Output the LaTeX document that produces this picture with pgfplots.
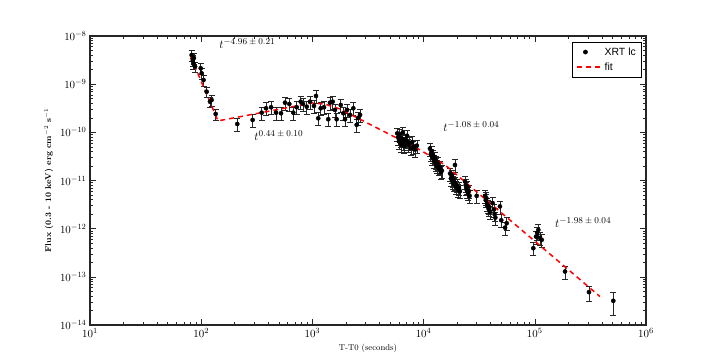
\documentclass[border=0pt]{standalone}
\usepackage{fontspec}
\usepackage{pgfplots}
\usepackage{pgfplotstable}
\pgfplotsset{compat=1.18}
\usetikzlibrary{calc}
\newfontfamily\legfont{Liberation Sans}
\definecolor{fitred}{RGB}{255,0,0}
% power-law index written as a large superscript
\newcommand{\idx}[1]{$t^{\mbox{\fontsize{9.5}{11}\selectfont$#1$}}$}
% longer legend sample for the fit line
\pgfplotsset{fit legend/.style={legend image code/.code={\draw[##1] (0cm,0cm) -- (0.88cm,0cm);}}}

% t (s), flux, relative error
\pgfplotstableread{
t F e
82 4.03e-9 0.25
84 3.18e-9 0.25
85 2.72e-9 0.25
86 3.5e-9 0.25
88 2.31e-9 0.25
99 2.14e-9 0.25
101 1.68e-9 0.25
105 1.22e-9 0.25
112 6.98e-10 0.25
120 4.33e-10 0.25
124 4.7e-10 0.25
135 2.41e-10 0.25
211 1.49e-10 0.3
290 1.81e-10 0.3
350 2.56e-10 0.3
383 3.16e-10 0.3
425 3.32e-10 0.3
471 2.56e-10 0.3
522 2.49e-10 0.3
567 4.13e-10 0.3
620 3.88e-10 0.3
673 2.56e-10 0.3
722 3.32e-10 0.3
785 4.33e-10 0.3
823 3.88e-10 0.3
889 3.41e-10 0.3
951 4.33e-10 0.3
1033 3.53e-10 0.3
1077 5.69e-10 0.3
1129 1.96e-10 0.3
1187 3.16e-10 0.3
1271 3.32e-10 0.3
1389 1.87e-10 0.3
1439 4.13e-10 0.3
1522 4.33e-10 0.3
1596 2.92e-10 0.3
1652 1.87e-10 0.3
1798 3.70e-10 0.3
1897 2.49e-10 0.3
1964 1.87e-10 0.3
2047 2.92e-10 0.3
2178 2.3e-10 0.3
2333 3.16e-10 0.3
2500 1.43e-10 0.3
2570 1.99e-10 0.3
2680 2.3e-10 0.3
5800 9.5e-11 0.3
5900 7.8e-11 0.3
6000 6.5e-11 0.3
6100 8.8e-11 0.3
6200 6.9e-11 0.3
6300 5.6e-11 0.3
6400 7.4e-11 0.3
6500 1.0e-10 0.3
6600 6.1e-11 0.3
6700 5.2e-11 0.3
6800 7.0e-11 0.3
7000 6.6e-11 0.3
7100 8.5e-11 0.3
7300 5.5e-11 0.3
7500 6.0e-11 0.3
7700 4.7e-11 0.3
7900 6.3e-11 0.3
8100 5.0e-11 0.3
8400 4.4e-11 0.3
8700 5.3e-11 0.3
11400 4.6e-11 0.3
11600 3.5e-11 0.3
11800 4.0e-11 0.3
12000 3.0e-11 0.3
12200 3.3e-11 0.3
12400 2.6e-11 0.3
12600 2.9e-11 0.3
12800 2.2e-11 0.3
13000 2.5e-11 0.3
13200 2.0e-11 0.3
13400 2.3e-11 0.3
13700 1.8e-11 0.3
14000 1.9e-11 0.3
14300 1.5e-11 0.3
14600 1.6e-11 0.3
17300 1.4e-11 0.3
17600 1.1e-11 0.3
17900 1.25e-11 0.3
18200 9.5e-12 0.3
18500 1.05e-11 0.3
18800 8.5e-12 0.3
19150 2.1e-11 0.3
19100 9.0e-12 0.3
19500 7.5e-12 0.3
19900 8.0e-12 0.3
20300 6.5e-12 0.3
20800 7.0e-12 0.3
21200 6.0e-12 0.3
23600 9.5e-12 0.3
23900 8.0e-12 0.3
24200 7.0e-12 0.3
24500 6.2e-12 0.3
24800 7.5e-12 0.3
25100 5.5e-12 0.3
25500 6.0e-12 0.3
25900 4.8e-12 0.3
30000 4.8e-12 0.3
35700 4.8e-12 0.3
36200 3.9e-12 0.3
36700 4.3e-12 0.3
37200 3.3e-12 0.3
37800 3.0e-12 0.3
38400 2.6e-12 0.3
39000 2.8e-12 0.3
39500 2.2e-12 0.3
41800 3.4e-12 0.3
42800 2.5e-12 0.3
43500 2.0e-12 0.3
44200 1.7e-12 0.3
48600 2.9e-12 0.3
49900 1.5e-12 0.3
54000 1.05e-12 0.3
55900 1.3e-12 0.3
97000 3.93e-13 0.3
102600 6.85e-13 0.3
105000 8.2e-13 0.3
107600 9.44e-13 0.3
111400 6.44e-13 0.3
115400 5.86e-13 0.3
187000 1.29e-13 0.3
307000 4.82e-14 0.35
508000 3.18e-14 0.5
}\xrtdata

% broken power-law fit
\pgfplotstableread{
t F
80.5 3.72e-9
141.6 1.73e-10
400 2.73e-10
1000 4.08e-10
1300 3.85e-10
1770 3.05e-10
9290 4.31e-11
15570 2.11e-11
385500 3.9e-14
}\fitdata

\begin{document}
\begin{tikzpicture}
\begin{axis}[
    name=ax,
    scale only axis,
    width=556bp, height=289bp,
    xmode=log, ymode=log,
    xmin=10, xmax=1e6, ymin=1e-14, ymax=1e-8,
    xtick={10,100,1000,10000,100000,1000000},
    ytick={1e-14,1e-13,1e-12,1e-11,1e-10,1e-9,1e-8},
    axis line style={line width=1.2pt, black!85},
    tick style={black!85, line width=0.5pt},
    major tick length=6bp, minor tick length=3bp,
    tick label style={font=\fontsize{11}{13}\selectfont},
    label style={font=\fontsize{8.5}{10}\selectfont},
    xlabel={T-T0 (seconds)},
    ylabel={\textbf{Flux (0.3 - 10 keV) erg cm$^{-2}$ s$^{-1}$}},
    legend style={at={(rel axis cs:0.992,0.98)}, anchor=north east,
        font=\legfont\fontsize{10.5}{12}\selectfont, draw=black, line width=0.5pt,
        inner sep=3.5pt, row sep=2pt, cells={anchor=west},
        /tikz/every even column/.append style={column sep=7pt}},
]
\addplot[only marks, mark=*, mark size=2.1pt, black,
    error bars/.cd, y dir=both, y explicit relative,
    error bar style={line width=0.6pt, black!85},
    error mark options={rotate=90, mark size=3bp, line width=0.6pt, black!85}]
    table[x=t, y=F, y error=e] {\xrtdata};
\addlegendentry{XRT lc}
\addplot[fitred, line width=1.5pt, dash pattern=on 5bp off 4bp, no markers, fit legend]
    table[x=t, y=F] {\fitdata};
\addlegendentry{fit}

\node[anchor=west, font=\fontsize{12}{14}\selectfont, inner sep=0pt] at (axis cs:145,7.0e-9) {\idx{-4.96\pm0.21}};
\node[anchor=west, font=\fontsize{12}{14}\selectfont, inner sep=0pt] at (axis cs:300,8.6e-11) {\idx{0.44\pm0.10}};
\node[anchor=west, font=\fontsize{12}{14}\selectfont, inner sep=0pt] at (axis cs:15000,1.33e-10) {\idx{-1.08\pm0.04}};
\node[anchor=west, font=\fontsize{12}{14}\selectfont, inner sep=0pt] at (axis cs:152000,1.35e-12) {\idx{-1.98\pm0.04}};
\end{axis}
\path[use as bounding box] ($(ax.south west)+(-90bp,-35bp)$) rectangle ($(ax.north east)+(74bp,36bp)$);
\end{tikzpicture}
\end{document}
